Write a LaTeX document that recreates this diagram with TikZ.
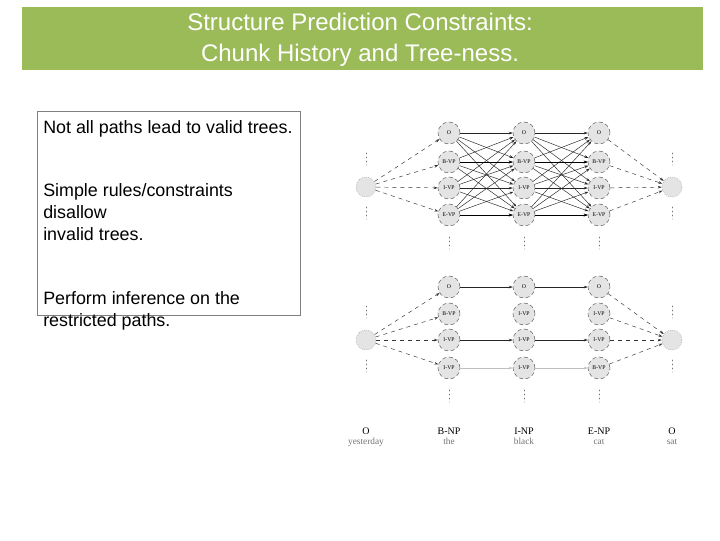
\documentclass[tikz,border=0pt]{standalone}
\usepackage{fontspec}
\setmainfont{Liberation Sans}
\newfontfamily\serifx{Liberation Serif}
\usetikzlibrary{arrows.meta}
\definecolor{titlegreen}{HTML}{9BBB59}
\definecolor{nodefill}{HTML}{E4E4E4}
\begin{document}
\begin{tikzpicture}[x=0.75pt,y=-0.75pt,
  lat/.style={circle,draw=black!60,densely dashed,fill=nodefill,minimum size=16.5pt,inner sep=0pt,font=\serifx\fontsize{4.3}{5}\selectfont},
  endn/.style={circle,draw=black!40,densely dotted,fill=nodefill,minimum size=15pt,inner sep=0pt},
  edge/.style={-{Stealth[length=3pt,width=2pt]},black!85,line width=0.35pt},
  hedge/.style={-{Stealth[length=3pt,width=2pt]},black,line width=0.7pt},
  dedge/.style={-{Stealth[length=3pt,width=2pt]},black!80,dashed,line width=0.35pt},
  vd/.style={black!55,line width=0.7pt,dash pattern=on 0.7pt off 2.3pt,line cap=round},
  tag/.style={font=\serifx\fontsize{7.5}{8}\selectfont,inner sep=0pt,anchor=base},
  word/.style={font=\serifx\fontsize{7}{8}\selectfont,text=black!55,inner sep=0pt,anchor=base}]
\useasboundingbox (0,0) rectangle (720,540);
% title
\fill[titlegreen] (22,7) rectangle (703,70);
\node[text=white,align=center,font=\fontsize{18}{23.3}\selectfont] (title) at (360,40) {Structure Prediction Constraints:\\Chunk History and Tree-ness.};
% text box
\draw[black!50,line width=0.6pt] (37,111) rectangle (300,315);
\node[anchor=north west,align=left,inner sep=0pt,font=\fontsize{13.4}{16.5}\selectfont] (t1) at (43,120) {Not all paths lead to valid trees.};
\node[anchor=north west,align=left,inner sep=0pt,font=\fontsize{13.4}{16.5}\selectfont] (t2) at (43,183) {Simple rules/constraints\\disallow\\invalid trees.};
\node[anchor=north west,align=left,inner sep=0pt,font=\fontsize{13.4}{16.5}\selectfont] (t3) at (43,291) {Perform inference on the\\restricted paths.};
% top lattice
\node[endn] (L) at (366,187) {};
\node[endn] (R) at (672,187) {};
\foreach \c/\x in {1/449,2/524,3/599}{
  \node[lat] (a\c1) at (\x,133) {O};
  \node[lat] (a\c2) at (\x,162) {B-VP};
  \node[lat] (a\c3) at (\x,188) {I-VP};
  \node[lat] (a\c4) at (\x,215) {E-VP};
}
\foreach \i in {1,2,3,4}{
  \draw[dedge] (L) -- (a1\i);
  \draw[dedge] (a3\i) -- (R);
  \foreach \j in {1,2,3,4}{
    \draw[edge] (a1\i) -- (a2\j);
    \draw[edge] (a2\i) -- (a3\j);
  }
}
\foreach \c in {1,2}{
  \pgfmathtruncatemacro{\d}{\c+1}
  \draw[hedge] (a\c2) -- (a\d2);
  \draw[hedge] (a\c4) -- (a\d4);
}
\foreach \x in {366,672}{
  \draw[vd] (\x,153) -- (\x,165);
  \draw[vd] (\x,207) -- (\x,219);
}
\foreach \x in {449,524,599}{
  \draw[vd] (\x,237) -- (\x,249);
}
% bottom lattice
\node[endn] (L2) at (366,340) {};
\node[endn] (R2) at (672,340) {};
\node[lat] (b11) at (449,287) {O};
\node[lat] (b12) at (449,314) {B-VP};
\node[lat] (b13) at (449,340) {I-VP};
\node[lat] (b14) at (449,368) {I-VP};
\node[lat] (b21) at (524,287) {O};
\node[lat] (b22) at (524,314) {I-VP};
\node[lat] (b23) at (524,340) {I-VP};
\node[lat] (b24) at (524,368) {I-VP};
\node[lat] (b31) at (599,287) {O};
\node[lat] (b32) at (599,314) {I-VP};
\node[lat] (b33) at (599,340) {I-VP};
\node[lat] (b34) at (599,368) {B-VP};
\foreach \i in {1,2,3,4}{
  \draw[dedge] (L2) -- (b1\i);
  \draw[dedge] (b3\i) -- (R2);
}
\draw[edge] (b11) -- (b21);
\draw[edge] (b21) -- (b31);
\draw[edge] (b13) -- (b23);
\draw[edge] (b23) -- (b33);
\draw[edge,black!25] (b14) -- (b24);
\draw[edge,black!25] (b24) -- (b34);
\foreach \x in {366,672}{
  \draw[vd] (\x,306) -- (\x,318);
  \draw[vd] (\x,360) -- (\x,372);
}
\foreach \x in {449,524,599}{
  \draw[vd] (\x,390) -- (\x,402);
}
% tags and words
\foreach \x/\t/\w/\n in {366/O/yesterday/1,449/B-NP/the/2,524/I-NP/black/3,599/E-NP/cat/4,672/O/sat/5}{
  \node[tag] (tg\n) at (\x,434) {\t};
  \node[word] (w\n) at (\x,444) {\w};
}
\end{tikzpicture}
\end{document}
